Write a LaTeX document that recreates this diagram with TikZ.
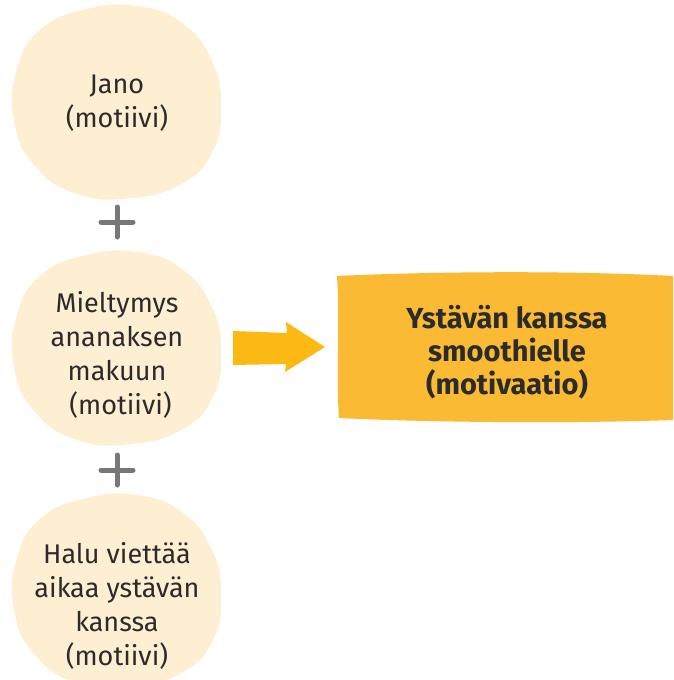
\documentclass[tikz,border=0pt]{standalone}
\usepackage{fontspec}
\setmainfont{Fira Sans}
\definecolor{blobfill}{HTML}{FEEFD3}
\definecolor{boxfill}{HTML}{FBBA33}
\definecolor{arrowfill}{HTML}{FDB913}
\definecolor{plusgray}{HTML}{77787B}
\definecolor{txt}{HTML}{2B2B2B}
\tikzset{
  blobshape/.style={fill=blobfill, draw=none},
  blobtext/.style={align=center, text=txt, font=\fontsize{27}{34}\selectfont, inner sep=0pt},
  boxtext/.style={align=center, text=txt, font=\fontsize{29}{33}\selectfont\bfseries, inner sep=0pt},
  plusline/.style={draw=plusgray, line width=5pt, line cap=round}
}
\newcommand{\myblob}[2]{%
  \fill[blobfill] plot[smooth cycle, tension=0.8] coordinates {
    (#1-30,#2-92) (#1+20,#2-95) (#1+65,#2-78) (#1+95,#2-40) (#1+104,#2+5)
    (#1+96,#2+50) (#1+66,#2+82) (#1+15,#2+97) (#1-40,#2+93) (#1-82,#2+65)
    (#1-103,#2+20) (#1-100,#2-32) (#1-76,#2-72)};}
\newcommand{\myplus}[2]{%
  \draw[plusline] (#1-16,#2) -- (#1+16,#2);
  \draw[plusline] (#1,#2-15) -- (#1,#2+15);}
\begin{document}
\begin{tikzpicture}[x=1pt,y=-1pt]
\useasboundingbox (0,0) rectangle (673,680);
\begin{scope}
\clip (0,0) rectangle (673,680);
\myblob{117}{101}
\myblob{117}{347}
\myblob{117}{590}
\end{scope}
\node[blobtext] (jano) at (117,103) {Jano\\(motiivi)};
\node[blobtext] (mielty) at (117,355) {Mieltymys\\ananaksen\\makuun\\\ (motiivi)};
\node[blobtext] (halu) at (117,606) {Halu viettää\\aikaa ystävän\\kanssa\\(motiivi)};
\myplus{117}{222}
\myplus{117}{470}
% arrow
\fill[arrowfill] (233,331) -- (287,333) -- (286,322) -- (325,347) -- (285,372) -- (286,364) -- (233,365) -- cycle;
% box
\fill[boxfill] (337,276) .. controls (420,272) and (560,270) .. (673,276)
  -- (673,420) .. controls (560,424) and (420,422) .. (339,418)
  .. controls (336,380) and (340,320) .. (337,276) -- cycle;
\node[boxtext] (ystavan) at (507,352) {Ystävän kanssa\\smoothielle\\(motivaatio)};
\end{tikzpicture}
\end{document}
